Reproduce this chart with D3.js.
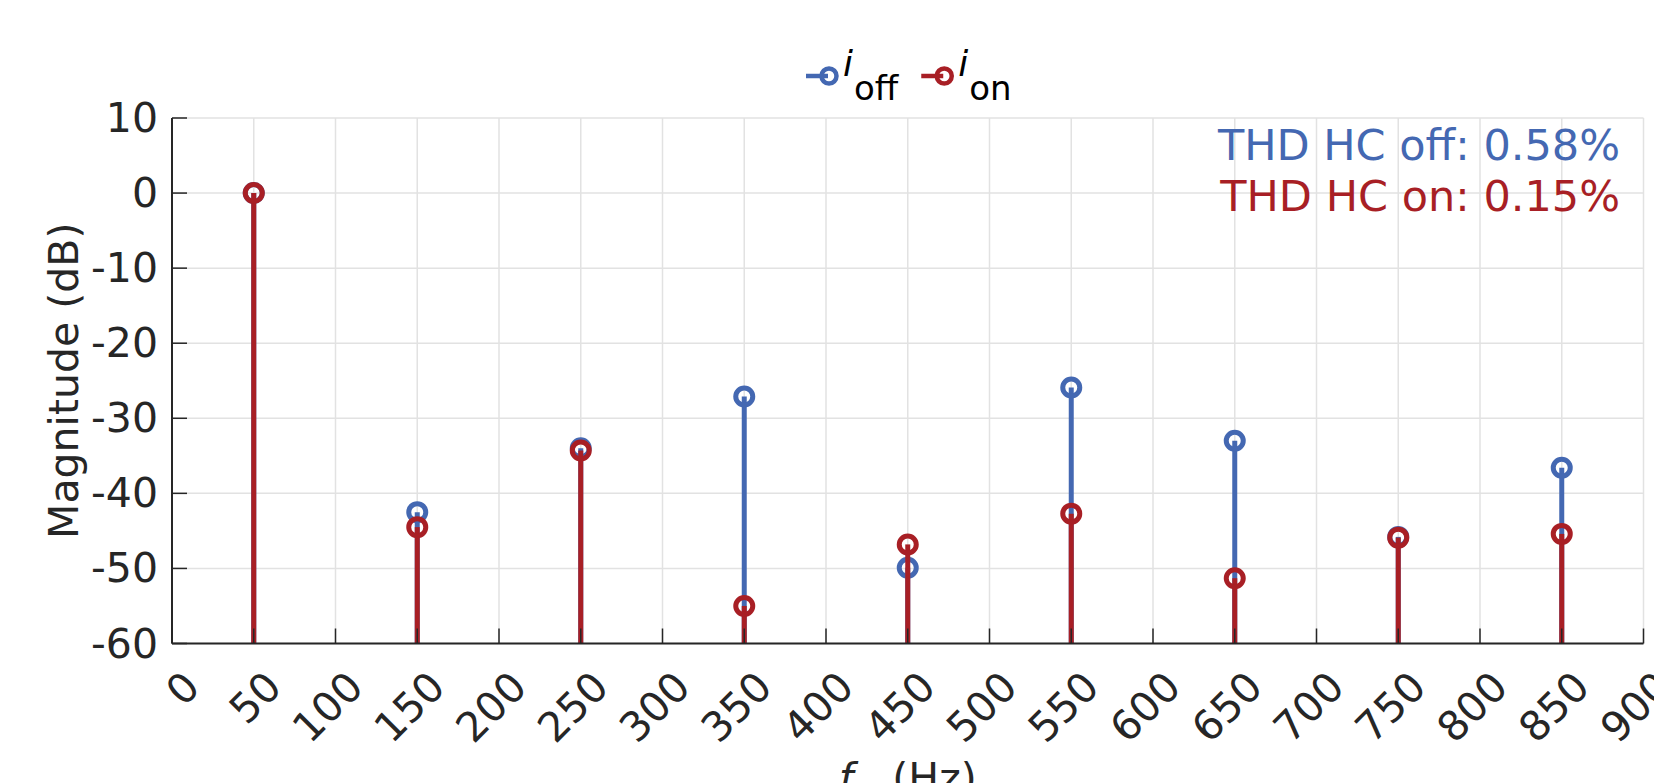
<!DOCTYPE html>
<html lang="en">
<head>
    <meta charset="UTF-8">
    <title>Harmonic spectrum: i_off vs i_on</title>
    <script src="https://d3js.org/d3.v7.min.js"></script>
    <style>
        body { margin: 0; background: #fff; }
        svg { display: block; font-family: "DejaVu Sans", Verdana, sans-serif; }
    </style>
</head>
<body>
    <div id="chart"></div>

    <script>
        // harmonic frequencies (Hz) and magnitudes (dB)
        const freqs = [50, 150, 250, 350, 450, 550, 650, 750, 850];
        const magOff = [0, -42.5, -34.0, -27.1, -49.9, -25.9, -33.0, -45.8, -36.6];
        const magOn = [0, -44.5, -34.3, -55.0, -46.8, -42.7, -51.3, -45.9, -45.4];

        const xTicks = d3.range(0, 901, 50);
        const yTicks = d3.range(-60, 11, 10);
        const thdLines = ["THD HC off: 0.58%", "THD HC on: 0.15%"];

        const W = 1654, H = 783;
        const margin = { top: 118, right: 10.5, bottom: 139.5, left: 172 };
        const width = W - margin.left - margin.right;
        const height = H - margin.top - margin.bottom;

        const blue = "#4468b2", red = "#a81f25", ink = "#262626";
        const fs = 41;

        const svg = d3.select("#chart").append("svg").attr("width", W).attr("height", H);
        const g = svg.append("g").attr("transform", `translate(${margin.left},${margin.top})`);

        const x = d3.scaleLinear().domain([0, 900]).range([0, width]);
        const y = d3.scaleLinear().domain([-60, 10]).range([height, 0]);

        // grid
        g.append("g").selectAll("line").data(xTicks).enter().append("line")
            .attr("x1", d => x(d)).attr("x2", d => x(d))
            .attr("y1", 0).attr("y2", height)
            .attr("stroke", "#e2e2e2").attr("stroke-width", 1.5);
        g.append("g").selectAll("line").data(yTicks).enter().append("line")
            .attr("x1", 0).attr("x2", width)
            .attr("y1", d => y(d)).attr("y2", d => y(d))
            .attr("stroke", "#e2e2e2").attr("stroke-width", 1.5);

        // stems, blue series first then red on top
        const series = [
            { vals: magOff, color: blue },
            { vals: magOn, color: red }
        ];
        series.forEach(s => {
            const sg = g.append("g");
            sg.selectAll("line").data(freqs).enter().append("line")
                .attr("x1", d => x(d)).attr("x2", d => x(d))
                .attr("y1", y(-60)).attr("y2", (d, i) => y(s.vals[i]))
                .attr("stroke", s.color).attr("stroke-width", 5);
            sg.selectAll("circle").data(freqs).enter().append("circle")
                .attr("cx", d => x(d)).attr("cy", (d, i) => y(s.vals[i]))
                .attr("r", 8.5)
                .attr("fill", "none").attr("stroke", s.color).attr("stroke-width", 5);
        });

        // axes
        g.append("line").attr("x1", 0).attr("x2", 0).attr("y1", 0).attr("y2", height)
            .attr("stroke", ink).attr("stroke-width", 2);
        g.append("line").attr("x1", 0).attr("x2", width).attr("y1", height).attr("y2", height)
            .attr("stroke", ink).attr("stroke-width", 2);

        g.append("g").selectAll("line").data(xTicks).enter().append("line")
            .attr("x1", d => x(d)).attr("x2", d => x(d))
            .attr("y1", height).attr("y2", height - 15)
            .attr("stroke", ink).attr("stroke-width", 1.5);
        g.append("g").selectAll("line").data(yTicks).enter().append("line")
            .attr("x1", 0).attr("x2", 15)
            .attr("y1", d => y(d)).attr("y2", d => y(d))
            .attr("stroke", ink).attr("stroke-width", 1.5);

        // tick labels
        g.append("g").selectAll("text").data(xTicks).enter().append("text")
            .attr("transform", d => `translate(${x(d) + 20},${height + 36}) rotate(-45)`)
            .attr("text-anchor", "end").attr("dominant-baseline", "central")
            .attr("font-size", fs).attr("fill", ink)
            .text(d => d);
        g.append("g").selectAll("text").data(yTicks).enter().append("text")
            .attr("x", -14).attr("y", d => y(d))
            .attr("text-anchor", "end").attr("dominant-baseline", "central")
            .attr("font-size", fs).attr("fill", ink)
            .text(d => d);

        // axis labels
        svg.append("text")
            .attr("transform", `translate(64,${margin.top + height / 2}) rotate(-90)`)
            .attr("text-anchor", "middle").attr("dominant-baseline", "central")
            .attr("font-size", fs).attr("fill", ink)
            .text("Magnitude (dB)");
        const xl = svg.append("text")
            .attr("x", margin.left + width / 2).attr("y", 792)
            .attr("text-anchor", "middle").attr("font-size", fs).attr("fill", ink)
            .attr("xml:space", "preserve");
        xl.append("tspan").attr("font-style", "italic").text("f");
        xl.append("tspan").text("   (Hz)");

        // THD annotation
        svg.append("g").selectAll("text").data(thdLines).enter().append("text")
            .attr("x", 1620).attr("y", (d, i) => 160 + i * 51)
            .attr("text-anchor", "end").attr("font-size", 43)
            .attr("fill", (d, i) => i === 0 ? blue : red)
            .text(d => d);

        // legend
        const legendItems = [
            { sub: "off", color: blue },
            { sub: "on", color: red }
        ];
        const lg = svg.append("g").attr("transform", "translate(806,76)");
        let lx = 0;
        legendItems.forEach(item => {
            const it = lg.append("g").attr("transform", `translate(${lx},0)`);
            it.append("line").attr("x1", 0).attr("x2", 22).attr("y1", 0).attr("y2", 0)
                .attr("stroke", item.color).attr("stroke-width", 4.5);
            it.append("circle").attr("cx", 23).attr("cy", 0).attr("r", 7.5)
                .attr("fill", "none").attr("stroke", item.color).attr("stroke-width", 4.5);
            const t = it.append("text").attr("x", 37).attr("y", 0)
                .attr("font-size", 34).attr("fill", "#000");
            t.append("tspan").attr("font-style", "italic").attr("font-size", 36).text("i");
            t.append("tspan").attr("dy", 24).attr("dx", 1).text(item.sub);
            lx += 37 + t.node().getComputedTextLength() + 24;
        });
    </script>
</body>
</html>
